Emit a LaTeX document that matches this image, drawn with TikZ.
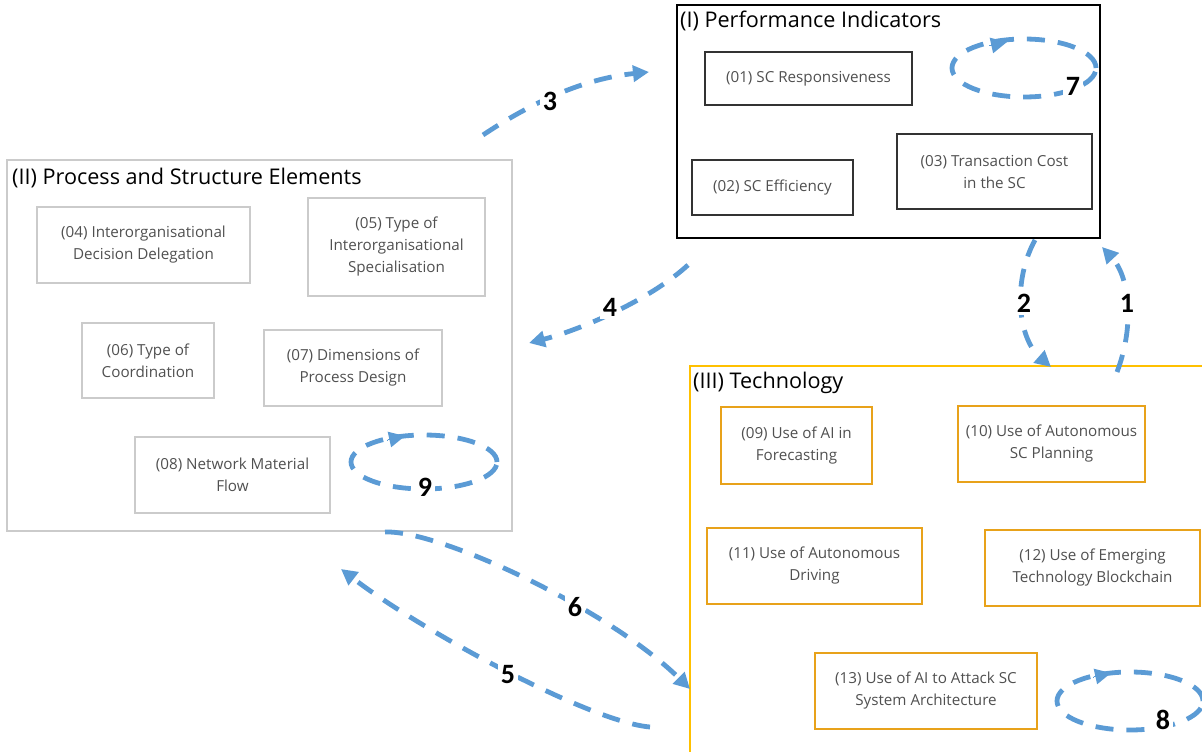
\documentclass[tikz,border=0pt]{standalone}
\usepackage{fontspec}
\setmainfont{Open Sans}
\newfontfamily\numfont{Carlito}
\usetikzlibrary{arrows.meta}
\definecolor{flowblue}{HTML}{5B9BD5}
\definecolor{techgold}{HTML}{FFC000}
\definecolor{techbox}{HTML}{E8A21A}
\definecolor{procgray}{HTML}{CBCBCB}
\definecolor{itemtext}{HTML}{505050}
\tikzset{
  group/.style={draw, line width=2.6pt, inner sep=0pt},
  grouptitle/.style={anchor=west, inner sep=0pt, font=\fontsize{21.6}{24}\selectfont},
  item/.style={draw, line width=2.8pt, align=center, inner sep=2pt, text=itemtext,
    font=\fontsize{15.2}{22}\selectfont},
  perf/.style={item, draw=black!80},
  proc/.style={item, draw=procgray},
  tech/.style={item, draw=techbox},
  flow/.style={draw=flowblue, line width=4.8pt, dash pattern=on 18pt off 13pt},
  flowarrow/.style={flow, -{Triangle[length=16pt,width=16pt]}},
  tip/.style={draw=flowblue, fill=flowblue, line width=0pt, -{Triangle[length=16pt,width=16pt]}},
  num/.style={font=\numfont\bfseries\fontsize{28}{28}\selectfont, fill=white, inner sep=3pt}
}
\begin{document}
\begin{tikzpicture}[x=1pt, y=-1pt]
\useasboundingbox (0,0) rectangle (1202,752);
\begin{scope}
\clip (0,0) rectangle (1202,752);

% group frames
\node[group, draw=black, minimum width=423pt, minimum height=233pt] (perfgrp) at (888.5,121.5) {};
\node[group, draw=procgray, line width=2.2pt, minimum width=505pt, minimum height=371pt] (procgrp) at (259.5,345.5) {};
\node[group, draw=techgold, minimum width=540pt, minimum height=440pt] (techgrp) at (960,586) {};

\node[grouptitle] (perftitle) at (680,21) {(I) Performance Indicators};
\node[grouptitle] (proctitle) at (12,178) {(II) Process and Structure Elements};
\node[grouptitle] (techtitle) at (693,383) {(III) Technology};

% performance indicators
\node[perf, minimum width=207pt, minimum height=53pt] (n01) at (808.5,78.5) {(01) SC Responsiveness};
\node[perf, minimum width=161pt, minimum height=55pt] (n02) at (772.5,187.5) {(02) SC Efficiency};
\node[perf, minimum width=195pt, minimum height=75pt] (n03) at (994.5,171.5) {(03) Transaction Cost\\in the SC};

% process and structure elements
\node[proc, minimum width=213pt, minimum height=76pt] (n04) at (143.5,245) {(04) Interorganisational\\Decision Delegation};
\node[proc, minimum width=177pt, minimum height=98pt] (n05) at (396.5,247) {(05) Type of\\Interorganisational\\Specialisation};
\node[proc, minimum width=132pt, minimum height=75pt] (n06) at (148,360.5) {(06) Type of\\Coordination};
\node[proc, minimum width=178pt, minimum height=76pt] (n07) at (353,368) {(07) Dimensions of\\Process Design};
\node[proc, minimum width=195pt, minimum height=76pt] (n08) at (232.5,475) {(08) Network Material\\Flow};

% technology
\node[tech, minimum width=151pt, minimum height=77pt] (n09) at (796.5,445.5) {(09) Use of AI in\\Forecasting};
\node[tech, minimum width=187pt, minimum height=76pt] (n10) at (1051.5,444) {(10) Use of Autonomous\\SC Planning};
\node[tech, minimum width=215pt, minimum height=76pt] (n11) at (814.5,566) {(11) Use of Autonomous\\Driving};
\node[tech, minimum width=215pt, minimum height=76pt] (n12) at (1092.5,568) {(12) Use of Emerging\\Technology Blockchain};
\node[tech, minimum width=222pt, minimum height=76pt] (n13) at (926,691) {(13) Use of AI to Attack SC\\System Architecture};

% connector end points on the group frames
\coordinate (p3s) at (483,135);
\coordinate (p3e) at (649,72);
\coordinate (p4s) at (688,265);
\coordinate (p4e) at (529,343);
\coordinate (p1s) at (1117,372);
\coordinate (p1e) at (1102,247);
\coordinate (p2s) at (1035,240);
\coordinate (p2e) at (1051,367);
\coordinate (p6s) at (385,532);
\coordinate (p6e) at (690,689);
\coordinate (p5s) at (650,727);
\coordinate (p5e) at (341,569);

% relations between the groups
\draw[flowarrow] (p3s) .. controls (540,97) and (590,78) .. (p3e);
\draw[flowarrow] (p4s) .. controls (650,300) and (580,330) .. (p4e);
\draw[flowarrow] (p1s) .. controls (1136,322) and (1128,275) .. (p1e);
\draw[flowarrow] (p2s) .. controls (1012,282) and (1018,338) .. (p2e);
\draw[flowarrow] (p6s) .. controls (440,530) and (610,610) .. (p6e);
\draw[flowarrow] (p5s) .. controls (590,722) and (420,630) .. (p5e);

% feedback loops inside the groups
\draw[flow] (1024,68) ellipse [x radius=72pt, y radius=29pt];
\draw[tip] (989,46) -- (1007,42);
\draw[flow] (424,462) ellipse [x radius=73pt, y radius=27pt];
\draw[tip] (387,440) -- (405,436);
\draw[flow] (1130,701) ellipse [x radius=73pt, y radius=29pt];
\draw[tip] (1093,677) -- (1111,673);

% relation numbers
\node[num] (l1) at (1127,303) {1};
\node[num] (l2) at (1024,303) {2};
\node[num] (l3) at (550,101) {3};
\node[num] (l4) at (610,307) {4};
\node[num] (l5) at (508,675) {5};
\node[num] (l6) at (575,607) {6};
\node[num] (l7) at (1073,86) {7};
\node[num] (l8) at (1163,720) {8};
\node[num] (l9) at (425,487) {9};
\end{scope}
\end{tikzpicture}
\end{document}
